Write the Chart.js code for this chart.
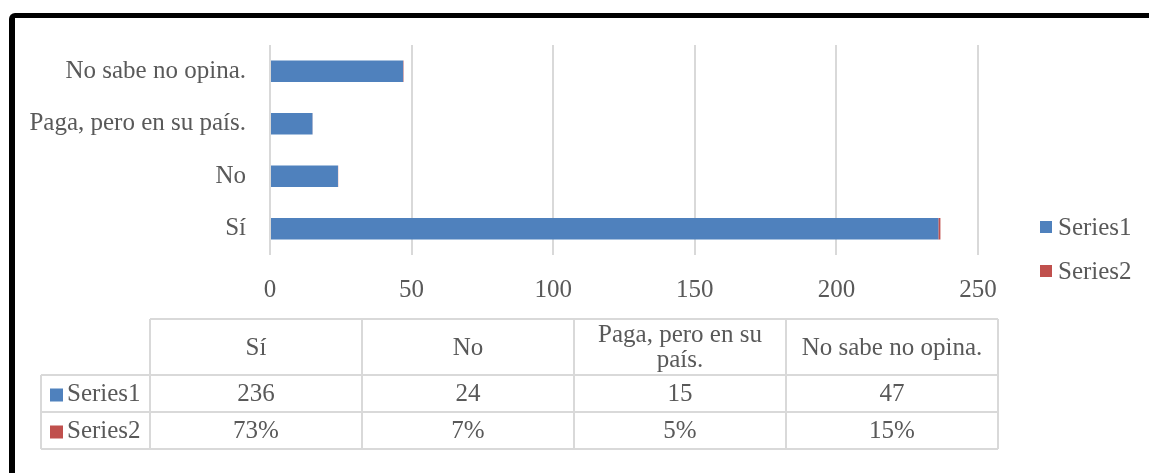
<!DOCTYPE html>
<html>
<head>
<meta charset="utf-8">
<script src="https://cdn.jsdelivr.net/npm/chart.js@4"></script>
<style>
  html, body { margin: 0; padding: 0; background: #fff; }
  #wrap { position: relative; width: 1149px; height: 473px; overflow: hidden; }
  #frame { position: absolute; left: 9px; top: 13px; width: 1200px; height: 500px;
           border-top: 5px solid #000; border-left: 6px solid #000; border-top-left-radius: 6px; }
  canvas { position: absolute; left: 0; top: 0; }
</style>
</head>
<body>
<div id="wrap">
  <div id="frame"></div>
  <canvas id="chart" width="1149" height="473"></canvas>
</div>
<script>
const categories = ['Sí', 'No', 'Paga, pero en su país.', 'No sabe no opina.']
const series1 = [236, 24, 15, 47]
const series2 = [0.73, 0.07, 0.05, 0.15]
const xTicks = [0, 50, 100, 150, 200, 250]

const FONT = '"Liberation Serif", "Times New Roman", serif'
const TEXT = '#595959'
const LINE = '#d9d9d9'

// legend on the right and data table under the plot
const extras = {
    id: 'extras',
    afterDraw(chart) {
        const ctx = chart.ctx
        const sets = chart.data.datasets
        ctx.save()
        ctx.font = '25px ' + FONT
        ctx.fillStyle = TEXT
        ctx.textBaseline = 'middle'

        // legend
        sets.forEach((ds, i) => {
            const y = 227 + i * 44
            ctx.fillStyle = ds.backgroundColor
            ctx.fillRect(1040, y - 6, 12, 12)
            ctx.fillStyle = TEXT
            ctx.textAlign = 'left'
            ctx.fillText(ds.label, 1058, y + 1)
        })

        // table
        const colX = [150, 362, 574, 786, 998]
        const rowY = [319, 375, 412, 449]
        ctx.strokeStyle = LINE
        ctx.lineWidth = 2
        ctx.beginPath()
        colX.forEach(x => { ctx.moveTo(x, rowY[0]); ctx.lineTo(x, rowY[3]) })
        ctx.moveTo(150, rowY[0]); ctx.lineTo(998, rowY[0])
        ctx.moveTo(41, rowY[1]); ctx.lineTo(998, rowY[1])
        ctx.moveTo(41, rowY[2]); ctx.lineTo(998, rowY[2])
        ctx.moveTo(41, rowY[3]); ctx.lineTo(998, rowY[3])
        ctx.moveTo(41, rowY[1]); ctx.lineTo(41, rowY[3])
        ctx.stroke()

        ctx.textAlign = 'center'
        chart.data.labels.forEach((lab, i) => {
            const cx = (colX[i] + colX[i + 1]) / 2
            const cw = colX[i + 1] - colX[i] - 16
            // wrap header text
            const words = lab.split(' ')
            const lines = []
            let cur = ''
            words.forEach(w => {
                const t = cur ? cur + ' ' + w : w
                if (ctx.measureText(t).width > cw && cur) { lines.push(cur); cur = w } else cur = t
            })
            lines.push(cur)
            const mid = (rowY[0] + rowY[1]) / 2 + 1
            lines.forEach((l, k) => {
                ctx.fillText(l, cx, mid + (k - (lines.length - 1) / 2) * 25)
            })
            ctx.fillText(String(sets[0].data[i]), cx, (rowY[1] + rowY[2]) / 2 + 1)
            ctx.fillText(Math.round(sets[1].data[i] * 100) + '%', cx, (rowY[2] + rowY[3]) / 2 + 1)
        })

        sets.forEach((ds, i) => {
            const y = (rowY[i + 1] + rowY[i + 2]) / 2 + 1
            ctx.fillStyle = ds.backgroundColor
            ctx.fillRect(50, y - 6, 13, 13)
            ctx.fillStyle = TEXT
            ctx.textAlign = 'left'
            ctx.fillText(ds.label, 67, y)
        })
        ctx.restore()
    }
}

new Chart(document.getElementById('chart'), {
    type: 'bar',
    data: {
        labels: categories,
        datasets: [
            { label: 'Series1', data: series1, backgroundColor: '#4F81BD' },
            { label: 'Series2', data: series2, backgroundColor: '#C0504D' }
        ]
    },
    options: {
        indexAxis: 'y',
        responsive: false,
        animation: false,
        categoryPercentage: 0.41,
        barPercentage: 1,
        layout: { padding: { left: 20, top: 45, right: 171, bottom: 168 } },
        scales: {
            x: {
                stacked: true,
                min: 0,
                max: 250,
                afterBuildTicks: axis => { axis.ticks = xTicks.map(v => ({ value: v })) },
                afterFit: axis => { axis.height = 50 },
                grid: { color: LINE, lineWidth: 2, drawTicks: false },
                border: { display: false },
                ticks: { color: TEXT, padding: 20, font: { family: FONT, size: 25 } }
            },
            y: {
                stacked: true,
                reverse: true,
                afterFit: axis => { axis.width = 250 },
                grid: { display: false },
                border: { display: false },
                ticks: { color: TEXT, padding: 16, font: { family: FONT, size: 25 } }
            }
        },
        plugins: {
            legend: { display: false },
            tooltip: { enabled: false }
        }
    },
    plugins: [extras]
})
</script>
</body>
</html>
